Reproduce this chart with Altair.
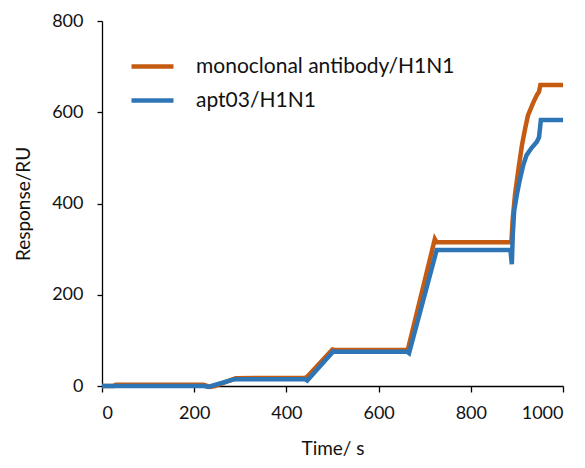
import altair as alt
import pandas as pd

mono_label = "monoclonal antibody/H1N1"
apt_label = "apt03/H1N1"

mono_t = [0, 25, 30, 220, 235, 245, 282, 290, 440, 445, 500, 505, 660, 664, 722, 726,
          888, 891, 896, 904, 911, 918, 924, 935, 943, 948, 951, 1000]
mono_v = [0, 0, 3, 3, -2, 0, 14, 17, 18, 20, 80, 79, 79, 82, 322, 315,
          315, 367, 420, 480, 528, 565, 593, 620, 637, 645, 660, 660]

apt_t = [0, 222, 230, 284, 290, 440, 445, 502, 506, 662, 666, 726, 730,
         886, 889, 891, 894, 900, 907, 914, 921, 932, 943, 948, 952, 1000]
apt_v = [0, 0, -2, 14, 15, 15, 12, 76, 75, 75, 72, 298, 298,
         298, 267, 330, 383, 420, 455, 485, 506, 522, 535, 545, 583, 583]

series_names = [mono_label, apt_label]
series_colors = ["#c55a11", "#2e75b6"]

df_mono = pd.DataFrame({"t": mono_t, "v": mono_v, "s": mono_label, "o": range(len(mono_t))})
df_apt = pd.DataFrame({"t": apt_t, "v": apt_v, "s": apt_label, "o": range(len(apt_t))})

FONT = "Lato"

color = alt.Color(
    "s:N",
    scale=alt.Scale(domain=series_names, range=series_colors),
    legend=alt.Legend(
        title=None,
        orient="none",
        legendX=27,
        legendY=22,
        symbolType="stroke",
        symbolSize=1764,
        symbolStrokeWidth=4.5,
        labelFontSize=21,
        labelFont=FONT,
        labelColor="#111111",
        labelOffset=20,
        rowPadding=-14,
        labelLimit=400,
    ),
)

x = alt.X("t:Q", scale=alt.Scale(domain=[0, 1000], nice=False),
          axis=alt.Axis(title="Time/ s", values=[0, 200, 400, 600, 800, 1000], format="d",
                        grid=False, tickSize=6, labelPadding=12, titlePadding=17))
y = alt.Y("v:Q", scale=alt.Scale(domain=[0, 800], nice=False),
          axis=alt.Axis(title="Response/RU", values=[0, 200, 400, 600, 800], format="d",
                        grid=False, tickSize=5, labelPadding=14, titlePadding=18))

l_mono = alt.Chart(df_mono).mark_line(strokeWidth=4.5, clip=False).encode(x=x, y=y, color=color, order="o:Q")
l_apt = alt.Chart(df_apt).mark_line(strokeWidth=4.5, clip=False).encode(x=x, y=y, color=color, order="o:Q")

chart = alt.layer(l_mono, l_apt).properties(
    width=461,
    height=365,
    autosize=alt.AutoSizeParams(type="none"),
    padding={"left": 94, "top": 13, "right": 14, "bottom": 74},
).configure_view(stroke=None).configure_axis(
    domainColor="black",
    tickColor="black",
    domainWidth=1.3,
    tickWidth=1.3,
    labelColor="#111111",
    titleColor="#111111",
    labelFont=FONT,
    titleFont=FONT,
    labelFontSize=18,
    titleFontSize=19,
    titleFontWeight="normal",
)

chart.save("out.html", embed_options={"renderer": "svg", "actions": False})
